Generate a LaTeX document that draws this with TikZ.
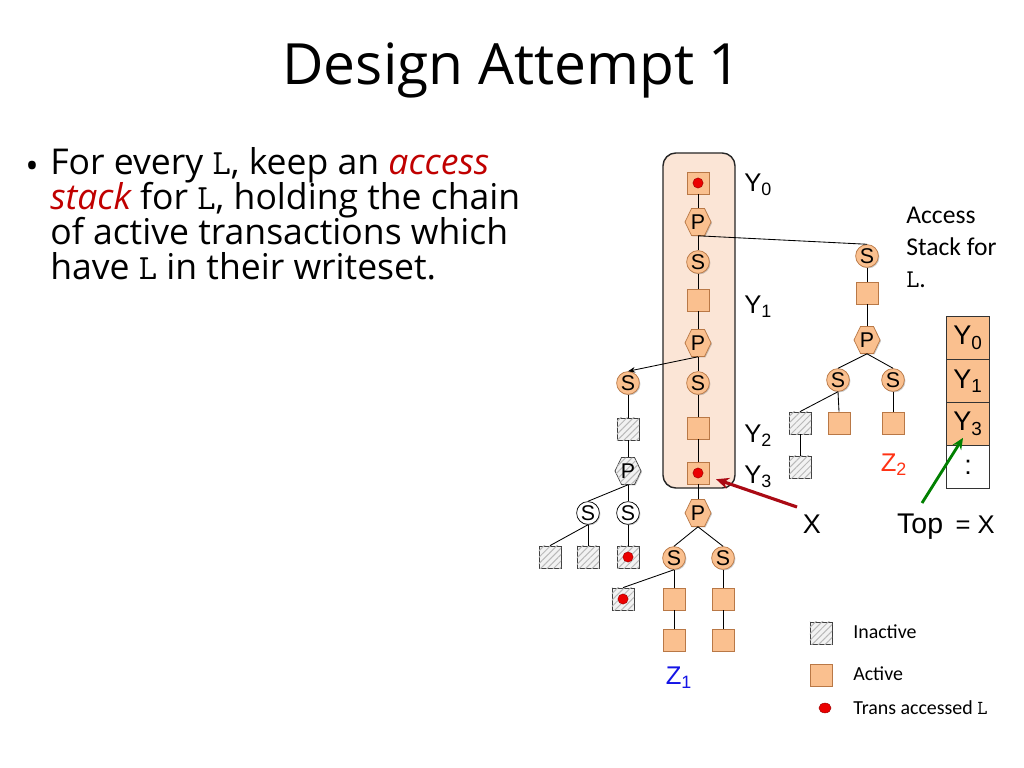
\documentclass[tikz,border=0pt]{standalone}
\usepackage{fontspec}
\setmainfont{Open Sans}
\newfontfamily\arialf{Liberation Sans}
\newfontfamily\calf{Carlito}
\usetikzlibrary{shapes.geometric,arrows.meta,patterns.meta,calc,shadows,backgrounds}
\definecolor{peach}{RGB}{250,192,143}
\definecolor{peachdk}{RGB}{185,120,70}
\definecolor{hilite}{RGB}{251,229,214}
\definecolor{darkred}{RGB}{192,0,0}
\definecolor{arrowred}{RGB}{170,10,20}
\definecolor{zblue}{RGB}{20,20,230}
\definecolor{zred}{RGB}{255,50,20}
\definecolor{garrow}{RGB}{0,128,0}
\definecolor{dotred}{RGB}{235,0,0}
\tikzset{
  shad/.style={drop shadow={shadow xshift=0.7pt, shadow yshift=-0.7pt, opacity=0.3, fill=black!70}},
  hatchfill/.style={fill=gray!10, draw=gray!50!black,
    postaction={pattern={Lines[angle=45,distance=3.2pt,line width=0.7pt]}, pattern color=gray!55}},
  act/.style={rectangle, minimum size=15.5pt, inner sep=0pt, fill=peach, draw=peachdk, line width=0.5pt, shad},
  inact/.style={rectangle, minimum size=15.5pt, inner sep=0pt, hatchfill, line width=0.5pt, shad},
  snode/.style={circle, minimum size=16pt, inner sep=0pt, fill=peach, draw=peachdk, line width=0.5pt, shad, font=\arialf\fontsize{15}{15}\selectfont},
  wsnode/.style={circle, minimum size=16pt, inner sep=0pt, fill=white, draw=black, line width=0.5pt, shad, font=\arialf\fontsize{15}{15}\selectfont},
  pnode/.style={circle, minimum size=19pt, inner sep=0pt, font=\arialf\fontsize{15}{15}\selectfont},
  hexp/.style={fill=peach, draw=peachdk, line width=0.5pt, shad},
  hhexp/.style={hatchfill, line width=0.5pt, shad},
  link/.style={draw=black, line width=0.6pt},
  stackrow/.style={rectangle, minimum width=30.2pt, minimum height=30.2pt, inner sep=0pt, draw=gray!40!black, line width=0.5pt, font=\arialf\fontsize{19}{19}\selectfont},
  ylab/.style={anchor=west, inner sep=0pt, font=\arialf\fontsize{18}{18}\selectfont},
  legtext/.style={anchor=west, inner sep=0pt, font=\calf\fontsize{14}{14}\selectfont},
}
\newcommand{\mL}{{\ttfamily L}}
\newcommand{\hexpath}[1]{($(#1)+(-13,0)$) -- ($(#1)+(-6.5,-13.5)$) -- ($(#1)+(6.5,-13.5)$) -- ($(#1)+(13,0)$) -- ($(#1)+(6.5,13.5)$) -- ($(#1)+(-6.5,13.5)$) -- cycle}
\begin{document}
\begin{tikzpicture}[x=0.703125pt, y=-0.703125pt]
\useasboundingbox (0,0) rectangle (1024,768);

% page background and highlight
\begin{scope}[on background layer]
\fill[white] (0,0) rectangle (1024,768);
\draw[fill=hilite, draw=black!85, line width=1pt, rounded corners=9pt] (663,153) rectangle (735,488);
\end{scope}

% title
\node[anchor=base, inner sep=0pt, font=\fontsize{40}{42}\selectfont] (title) at (512,85) {Design Attempt 1};

% bullet text
\node[anchor=base, inner sep=0pt, font=\fontsize{25}{25}\selectfont] (bul) at (32,179) {•};
\node[anchor=base west, align=left, inner sep=0pt, font={\fontsize{25}{24.8}\selectfont\lineskiplimit=-30pt}] (btext) at (50,280)
  {For every \mL, keep an \textcolor{darkred}{\itshape access}\\
   \textcolor{darkred}{\itshape stack} for \mL, holding the chain\\
   of active transactions which\\
   have \mL{} in their writeset.};

% main column
\node[act] (m0) at (698,183) {};
\node[pnode] (m1) at (698,222) {P};
\node[snode] (m2) at (698,262) {S};
\node[act] (m3) at (698,300) {};
\node[pnode] (m4) at (698,343) {P};
\node[snode] (m5) at (698,383) {S};
\node[act] (m6) at (698,428) {};
\node[act] (m7) at (698,473) {};
\node[pnode] (m8) at (698,513) {P};
\node[snode] (z1a) at (674,558) {S};
\node[snode] (z1b) at (723,558) {S};
\node[inact] (z1c) at (623,599) {};
\node[act] (z1d) at (674,599) {};
\node[act] (z1e) at (674,640) {};
\node[act] (z1f) at (723,599) {};
\node[act] (z1g) at (723,640) {};

% left branch
\node[snode] (l0) at (628,383) {S};
\node[inact] (l1) at (628,429) {};
\node[pnode] (l2) at (628,471) {P};
\node[wsnode] (l3) at (588,513) {S};
\node[wsnode] (l4) at (628,513) {S};
\node[inact] (l5) at (550,557) {};
\node[inact] (l6) at (588,557) {};
\node[inact] (l7) at (628,557) {};

% right branch
\node[snode] (r0) at (867,256) {S};
\node[act] (r1) at (867,293) {};
\node[pnode] (r2) at (867,340) {P};
\node[snode] (r3) at (838,380) {S};
\node[snode] (r4) at (893,380) {S};
\node[inact] (r5) at (800,423) {};
\node[act] (r6) at (839,423) {};
\node[act] (r7) at (893,423) {};
\node[inact] (r8) at (800,467) {};

% hexagon bodies behind the P labels
\begin{scope}[on background layer]
\foreach \n in {m1,m4,m8,r2} \draw[hexp] \hexpath{\n};
\draw[hhexp] \hexpath{l2};
\end{scope}

% red dots
\foreach \n in {m0,m7,z1c,l7} \fill[dotred, draw=red!60!black, line width=0.3pt] (\n.center) circle (3.6pt);

% links
\foreach \a/\b in {m0/m1,m1/m2,m2/m3,m3/m4,m4/m5,m5/m6,m6/m7,m7/m8,m8/z1a,m8/z1b,z1a/z1c,z1a/z1d,z1d/z1e,z1b/z1f,z1f/z1g,
  m1/r0,r0/r1,r1/r2,r2/r3,r2/r4,r3/r5,r3/r6,r4/r7,r5/r8,
  l0/l1,l1/l2,l2/l3,l2/l4,l3/l5,l3/l6,l4/l7}
  \draw[link] (\a.south) -- (\b.north);
\draw[link, -{Stealth[length=5pt,width=4pt]}] (m4.south) -- (l0.north);

% labels
\node[ylab] (y0) at (744,185) {Y\textsubscript{0}};
\node[ylab] (y1) at (744,307) {Y\textsubscript{1}};
\node[ylab] (y2) at (744,436) {Y\textsubscript{2}};
\node[ylab] (y3) at (744,477) {Y\textsubscript{3}};
\node[font=\arialf\fontsize{18}{18}\selectfont, text=zblue] (z1) at (679,678) {Z\textsubscript{1}};
\node[font=\arialf\fontsize{18}{18}\selectfont, text=zred] (z2) at (894,465) {Z\textsubscript{2}};
\node[font=\arialf\fontsize{19}{19}\selectfont] (xl) at (812,524) {X};

% red arrow
\coordinate (xa) at (797,507);
\draw[arrowred, line width=2.2pt, -{Stealth[length=9pt,width=8pt]}, shorten >=5pt] (xa) -- (m7);

% access stack
\node[anchor=north west, align=left, inner sep=0pt, font=\calf\fontsize{18}{22.5}\selectfont] (acc) at (906,207)
  {Access\\Stack for\\\mL.};
\node[stackrow, fill=peach] (s0) at (968,338) {Y\textsubscript{0}};
\node[stackrow, fill=peach] (s1) at (968,381) {Y\textsubscript{1}};
\node[stackrow, fill=peach] (s3) at (968,424) {Y\textsubscript{3}};
\node[stackrow, fill=white] (s4) at (968,467) {:};

\coordinate (ga) at (922,503);
\draw[garrow, line width=2pt, -{Stealth[length=8pt,width=7pt]}] (ga) -- ($(s3.south)+(-5,-8)$);
\node[font=\arialf\fontsize{20}{20}\selectfont] (top) at (946,527) {Top \,{\fontsize{18}{18}\selectfont= X}};

% legend
\node[inact] (lgi) at (821,633) {};
\node[act] (lga) at (821,675) {};
\node[ellipse, minimum width=8.5pt, minimum height=7pt, inner sep=0pt, fill=dotred, draw=red!60!black, line width=0.3pt] (lgd) at (825,708) {};
\node[legtext] (lti) at (853,632) {Inactive};
\node[legtext] (lta) at (853,674) {Active};
\node[legtext] (ltd) at (853,708) {Trans accessed \mL};
\end{tikzpicture}
\end{document}
